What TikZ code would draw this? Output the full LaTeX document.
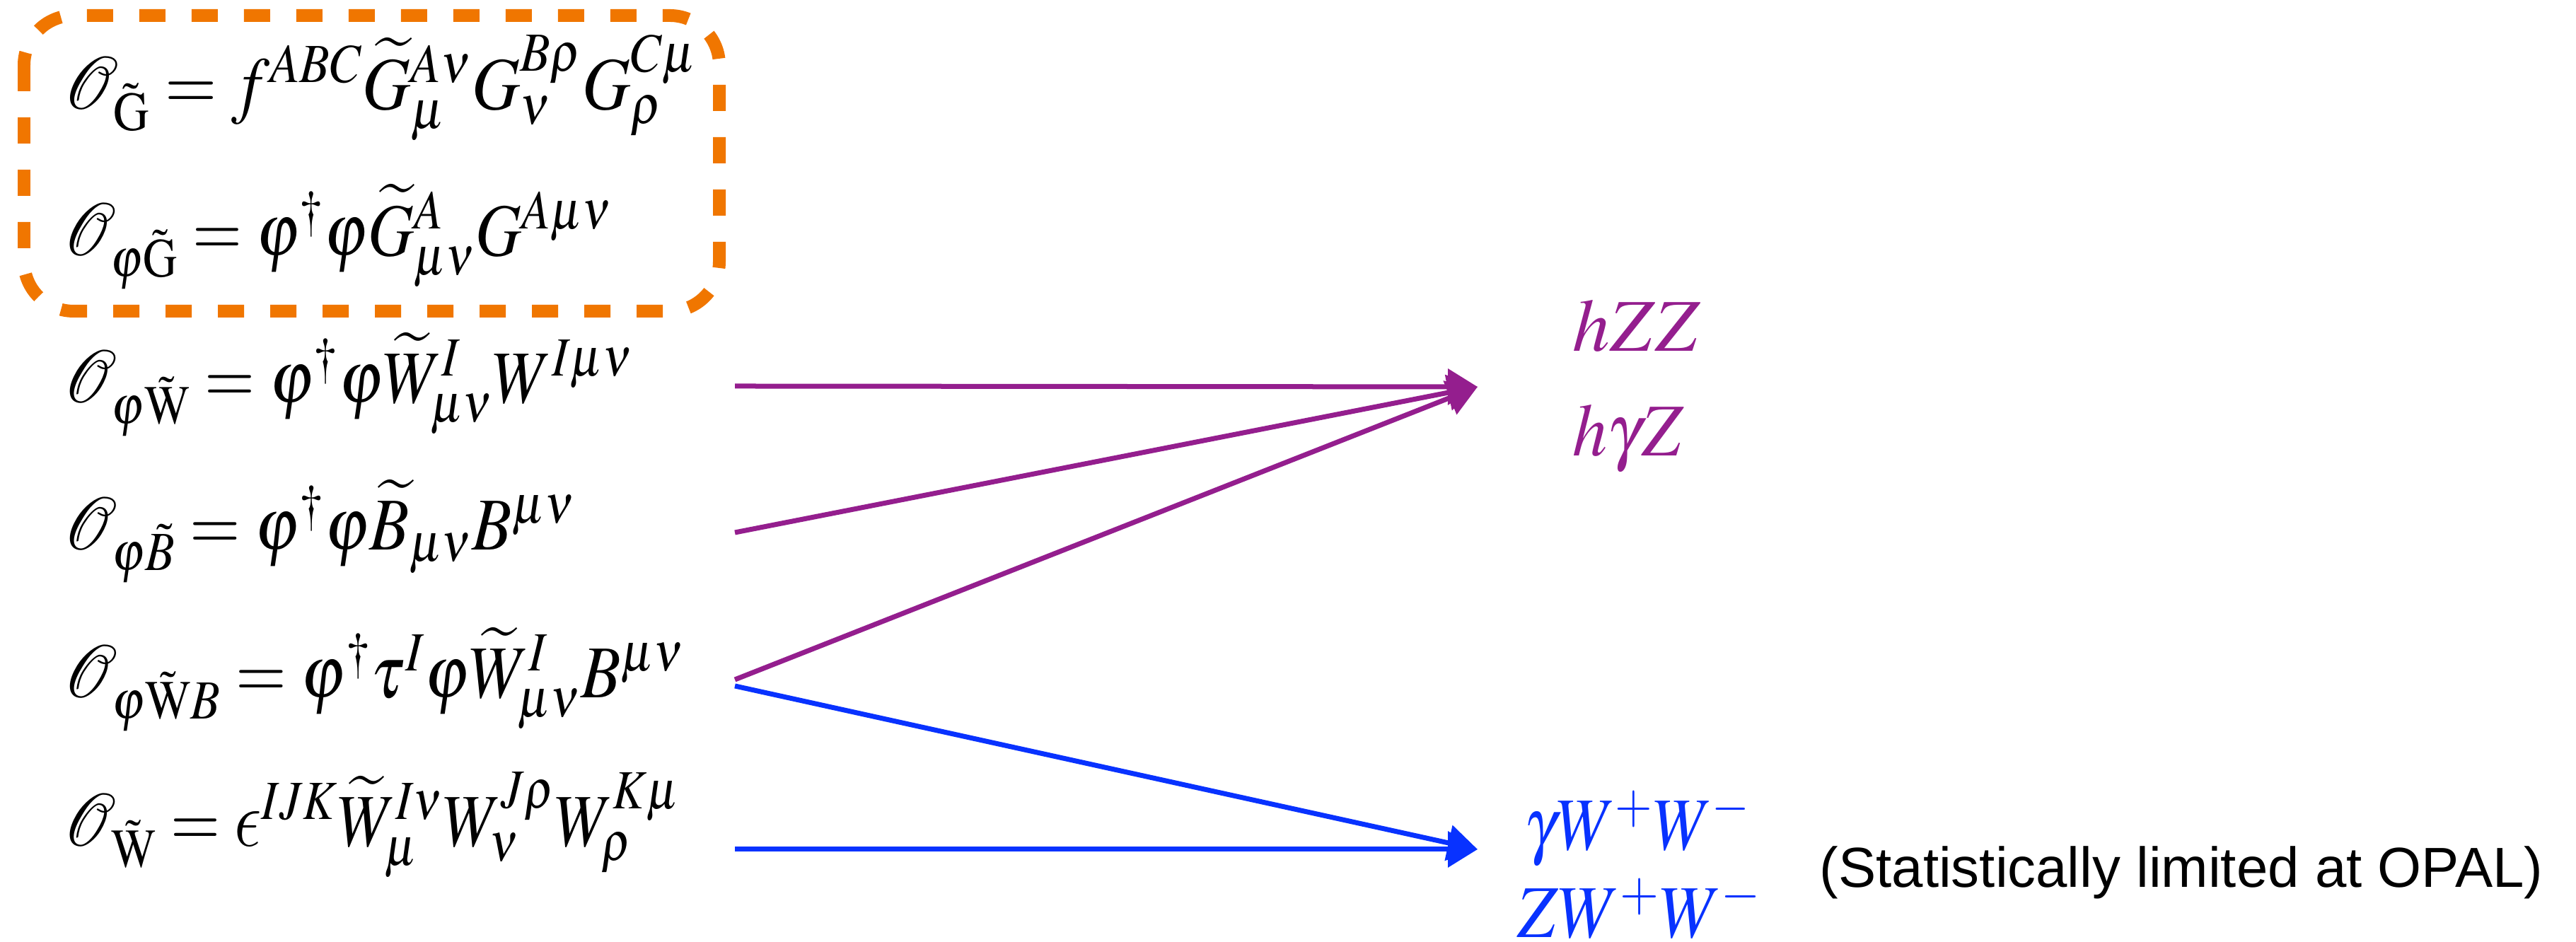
\documentclass[tikz,border=0pt]{standalone}
\usepackage{mathptmx}
\usepackage[no-math]{fontspec}
\setmainfont{Liberation Serif}
\newfontfamily\opalfont{Liberation Sans}
\usetikzlibrary{arrows.meta}
\DeclareSymbolFont{cmlettersx}{OML}{lmm}{m}{it}
\DeclareMathSymbol{\lunateeps}{\mathord}{cmlettersx}{"0F}
\definecolor{boxorange}{RGB}{240,118,0}
\definecolor{lnpurple}{RGB}{148,30,142}
\definecolor{lnblue}{RGB}{8,50,255}
\tikzset{
  eqn/.style={anchor=base west, inner sep=0pt, font=\fontsize{30}{36}\selectfont},
  lbl/.style={anchor=base west, inner sep=0pt, font=\fontsize{30}{36}\selectfont},
  parr/.style={draw=lnpurple, line width=0.07cm, -{Triangle[length=0.42cm,width=0.5cm]}, color=lnpurple},
  barr/.style={draw=lnblue, line width=0.07cm, -{Triangle[length=0.42cm,width=0.5cm]}, color=lnblue},
  dashbox/.style={draw=boxorange, line width=0.18cm, dash pattern=on 0.37cm off 0.37cm, rounded corners=0.7cm}
}
\begin{document}
\begin{tikzpicture}
\useasboundingbox (0,0) rectangle (36.42,13.32);
% dashed box
\draw[dashbox] (0.34,13.10) rectangle (10.17,8.92);
% equations
\node[eqn] (e1) at (0.90,11.77) {\scalebox{0.894}[1]{$\mathcal{O}_{\tilde{\mathrm{G}}} = f^{ABC}\widetilde{G}^{A\nu}_{\mu}G^{B\rho}_{\nu}G^{C\mu}_{\rho}$}};
\node[eqn] (e2) at (0.90,9.70) {\scalebox{0.853}[1]{$\mathcal{O}_{\varphi\tilde{\mathrm{G}}} = \varphi^{\dagger}\varphi\widetilde{G}^{A}_{\mu\nu}G^{A\mu\nu}$}};
\node[eqn] (e3) at (0.90,7.62) {\scalebox{0.866}[1]{$\mathcal{O}_{\varphi\tilde{\mathrm{W}}} = \varphi^{\dagger}\varphi\widetilde{W}^{I}_{\mu\nu}W^{I\mu\nu}$}};
\node[eqn] (e4) at (0.90,5.54) {\scalebox{0.872}[1]{$\mathcal{O}_{\varphi\tilde{B}} = \varphi^{\dagger}\varphi\widetilde{B}_{\mu\nu}B^{\mu\nu}$}};
\node[eqn] (e5) at (0.90,3.45) {\scalebox{0.875}[1]{$\mathcal{O}_{\varphi\tilde{\mathrm{W}}B} = \varphi^{\dagger}\tau^{I}\varphi\widetilde{W}^{I}_{\mu\nu}B^{\mu\nu}$}};
\node[eqn] (e6) at (0.90,1.35) {\scalebox{0.854}[1]{$\mathcal{O}_{\tilde{\mathrm{W}}} = {\scalebox{1.3}{$\lunateeps$}}^{IJK}\widetilde{W}^{I\nu}_{\mu}W^{J\rho}_{\nu}W^{K\mu}_{\rho}$}};
% right labels
\node[lbl, text=lnpurple] (hzz) at (22.23,8.35) {$hZZ$};
\node[lbl, text=lnpurple] (hgz) at (22.23,6.87) {\scalebox{0.93}[1]{$h\gamma Z$}};
\node[lbl, text=lnblue] (gww) at (21.55,1.30) {\scalebox{0.867}[1]{$\gamma W^{+}W^{-}$}};
\node[lbl, text=lnblue] (zww) at (21.45,0.06) {\scalebox{0.907}[1]{$ZW^{+}W^{-}$}};
\node[anchor=base west, inner sep=0pt, font=\opalfont\fontsize{22.7}{27}\selectfont] (opal) at (25.72,0.77) {(Statistically limited at OPAL)};
% connector end points
\coordinate (s3) at (10.39,7.86);
\coordinate (s4) at (10.39,5.79);
\coordinate (s5p) at (10.39,3.71);
\coordinate (s5b) at (10.39,3.62);
\coordinate (s6) at (10.39,1.31);
\coordinate (ptip) at (20.89,7.85);
\coordinate (btip) at (20.89,1.31);
% arrows
\draw[parr] (s3) -- (ptip);
\draw[parr] (s4) -- (ptip);
\draw[parr] (s5p) -- (ptip);
\draw[barr] (s5b) -- (btip);
\draw[barr] (s6) -- (btip);
\end{tikzpicture}
\end{document}
